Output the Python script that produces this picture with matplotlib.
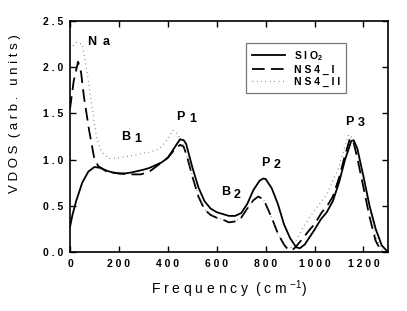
import matplotlib

matplotlib.use("Agg")
import matplotlib.pyplot as plt

# values
sio2_freq = [0, 10, 25, 50, 75, 100, 125, 150, 175, 200, 225, 250, 275, 300, 325, 350,
             375, 400, 425, 450, 465, 475, 500, 525, 550, 575, 600, 625, 650, 675, 700,
             725, 750, 775, 790, 800, 825, 850, 875, 900, 925, 940, 960, 1000, 1025,
             1050, 1075, 1100, 1125, 1150, 1160, 1175, 1200, 1225, 1250, 1275, 1300]
sio2_vdos = [0.27, 0.40, 0.55, 0.75, 0.87, 0.92, 0.91, 0.88, 0.86, 0.85, 0.85, 0.86, 0.875,
             0.89, 0.91, 0.94, 0.97, 1.02, 1.12, 1.22, 1.21, 1.17, 0.92, 0.70, 0.55, 0.47,
             0.43, 0.41, 0.39, 0.39, 0.42, 0.52, 0.67, 0.77, 0.795, 0.79, 0.69, 0.52, 0.30,
             0.15, 0.05, 0.04, 0.08, 0.24, 0.35, 0.43, 0.55, 0.75, 1.00, 1.20, 1.21, 1.12,
             0.82, 0.50, 0.25, 0.07, 0.0]

ns4i_freq = [0, 15, 33, 45, 57, 78, 98, 115, 150, 200, 250, 290, 325, 350, 375, 400, 425,
             450, 465, 480, 500, 525, 550, 575, 600, 625, 650, 675, 700, 725, 750, 770,
             790, 800, 825, 850, 875, 890, 910, 925, 950, 980, 1000, 1030, 1050, 1075,
             1100, 1125, 1145, 1160, 1175, 1200, 1225, 1250, 1275, 1300]
ns4i_vdos = [1.55, 1.85, 2.06, 1.95, 1.68, 1.32, 1.03, 0.93, 0.87, 0.85, 0.84, 0.84, 0.87,
             0.92, 0.97, 1.02, 1.10, 1.16, 1.14, 1.02, 0.82, 0.60, 0.46, 0.40, 0.37, 0.35,
             0.32, 0.33, 0.37, 0.47, 0.56, 0.60, 0.57, 0.52, 0.37, 0.20, 0.08, 0.03, 0.02,
             0.06, 0.14, 0.24, 0.30, 0.43, 0.49, 0.60, 0.80, 1.05, 1.23, 1.18, 1.02, 0.70,
             0.38, 0.12, 0.0, 0.0]

ns4ii_freq = [0, 25, 50, 70, 90, 110, 130, 160, 200, 250, 300, 327, 367, 400, 420, 440,
              460, 480, 500, 525, 550, 575, 600, 625, 650, 675, 700, 725, 750, 770, 790,
              800, 825, 850, 875, 890, 905, 926, 950, 1000, 1050, 1100, 1125, 1140, 1150,
              1175, 1200, 1225, 1250, 1275, 1300]
ns4ii_vdos = [2.20, 2.27, 2.25, 1.95, 1.57, 1.22, 1.08, 1.01, 1.02, 1.04, 1.07, 1.08, 1.12,
              1.22, 1.32, 1.28, 1.18, 1.02, 0.83, 0.61, 0.46, 0.40, 0.37, 0.35, 0.33, 0.33,
              0.37, 0.47, 0.56, 0.60, 0.57, 0.52, 0.37, 0.20, 0.08, 0.04, 0.05, 0.13, 0.25,
              0.45, 0.62, 0.92, 1.15, 1.27, 1.25, 1.08, 0.76, 0.44, 0.17, 0.02, 0.0]

x_ticks = [0, 200, 400, 600, 800, 1000, 1200]
y_ticks = [0.0, 0.5, 1.0, 1.5, 2.0, 2.5]

# peak labels: (letter, index, freq, vdos, index gap and drop in points)
peak_labels = [("N", "a", 72, 2.27, 11, 0), ("B", "1", 210, 1.25, 9, -2),
               ("P", "1", 435, 1.46, 9, -1), ("B", "2", 617, 0.65, 9, -2),
               ("P", "2", 780, 0.96, 9, -1), ("P", "3", 1126, 1.41, 9, -1)]


def spaced(s):
    return " ".join(s)


plt.rcParams["font.family"] = ["Liberation Sans", "DejaVu Sans"]
plt.rcParams["font.weight"] = "bold"
plt.rcParams["mathtext.default"] = "regular"

fig = plt.figure(figsize=(4.07, 3.11), dpi=100)
ax = fig.add_axes([0.172, 0.19, 0.781, 0.742])

ax.plot(sio2_freq, sio2_vdos, color="black", lw=1.3, label=spaced("SIO") + "$_2$")
ax.plot(ns4i_freq, ns4i_vdos, color="black", lw=1.3, dashes=(7, 3.5), label=spaced("NS4_I"))
ax.plot(ns4ii_freq, ns4ii_vdos, color="#555555", lw=0.9, linestyle=(0, (0.5, 3.0)),
        label=spaced("NS4_II"))

ax.set_xlim(0, 1300)
ax.set_ylim(0, 2.5)
ax.set_xticks(x_ticks)
ax.set_xticklabels([spaced(str(t)) for t in x_ticks], fontsize=7.5)
ax.set_yticks(y_ticks)
ax.set_yticklabels([spaced(f"{t:.1f}") for t in y_ticks], fontsize=7.5)
ax.tick_params(direction="in", top=True, right=True, length=4, width=1.0, pad=5)
for sp in ax.spines.values():
    sp.set_linewidth(1.2)

ax.set_xlabel(spaced("Frequency") + "  " + spaced("(cm") + " $^{-1}$)", fontsize=10, labelpad=7)
ax.set_ylabel(spaced("VDOS") + "  " + spaced("(arb. units)"), fontsize=9.5)
ax.yaxis.set_label_coords(-0.155, 0.6)

for letter, idx, fx, fy, gap, drop in peak_labels:
    ax.annotate(letter, (fx, fy), fontsize=9, ha="left", va="center")
    ax.annotate(idx, (fx, fy), xytext=(gap, drop), textcoords="offset points",
                fontsize=9, ha="left", va="center")

leg = ax.legend(loc="upper right", bbox_to_anchor=(0.885, 0.93), fontsize=7.5,
                frameon=True, fancybox=False, edgecolor="#555555", handlelength=3.2,
                borderpad=0.6, labelspacing=0.2)
leg.get_frame().set_linewidth(0.9)

fig.savefig("out.png", dpi=100)
